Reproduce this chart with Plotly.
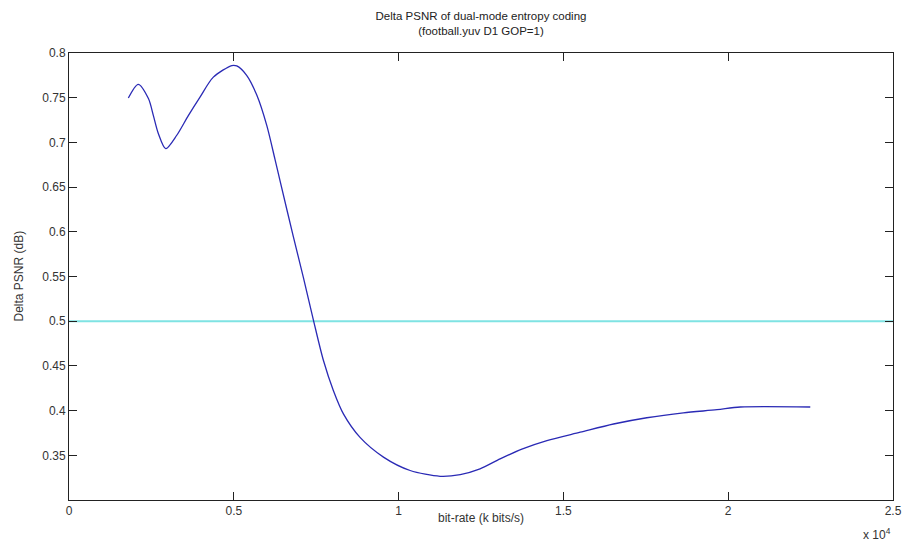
import plotly.graph_objects as go

# Data (bit-rate in k bits/s, delta PSNR in dB)
bitrate = [1800, 2100, 2410, 2560, 2710, 2935, 3270, 3620, 3980, 4380, 4940, 5090,
           5390, 5700, 6000, 6250, 6400, 6810, 7110, 7430, 7720, 8020, 8330, 8830,
           9540, 10350, 11260, 11870, 12470, 13080, 13740, 14500, 15510, 16520,
           17530, 18640, 19660, 20370, 22490]
delta_psnr = [0.7496, 0.765, 0.749, 0.730, 0.710, 0.693, 0.708, 0.730, 0.751, 0.773,
              0.786, 0.7855, 0.775, 0.7527, 0.719, 0.681, 0.6575, 0.594, 0.549, 0.499,
              0.456, 0.4225, 0.396, 0.370, 0.348, 0.333, 0.3265, 0.3284, 0.3348, 0.346,
              0.357, 0.3665, 0.3758, 0.385, 0.392, 0.3975, 0.401, 0.404, 0.404]
ref_x = [0, 25000]
ref_y = [0.5, 0.5]

x_tickvals = [0, 5000, 10000, 15000, 20000, 25000]
x_ticktext = ["0", "0.5", "1", "1.5", "2", "2.5"]
y_tickvals = [0.35, 0.4, 0.45, 0.5, 0.55, 0.6, 0.65, 0.7, 0.75, 0.8]
y_ticktext = ["0.35", "0.4", "0.45", "0.5", "0.55", "0.6", "0.65", "0.7", "0.75", "0.8"]

FONT = "Liberation Sans, Arial, sans-serif"

fig = go.Figure()
fig.add_trace(go.Scatter(x=ref_x, y=ref_y, mode="lines",
                         line=dict(color="#7fe3e3", width=2), showlegend=False))
fig.add_trace(go.Scatter(x=bitrate, y=delta_psnr, mode="lines",
                         line=dict(color="#2a2ab5", width=1.3, shape="spline", smoothing=0.8),
                         showlegend=False))

axis_common = dict(showline=True, linecolor="#222222", linewidth=1, mirror="allticks",
                   ticks="inside", ticklen=8, tickcolor="#222222", showgrid=False,
                   zeroline=False, automargin=False,
                   tickfont=dict(family=FONT, size=12, color="#333333"))

fig.update_layout(
    width=904, height=547,
    margin=dict(l=69, r=11, t=53, b=47),
    paper_bgcolor="white", plot_bgcolor="white",
    font=dict(family=FONT, size=12, color="#333333"),
    title=dict(text="Delta PSNR of dual-mode entropy coding<br>(football.yuv D1 GOP=1)",
               x=481 / 904, xanchor="center", y=1 - 20 / 547, yanchor="middle",
               font=dict(family=FONT, size=11.5, color="#222222")),
    xaxis=dict(range=[0, 25000], tickvals=x_tickvals, ticktext=x_ticktext, **axis_common),
    yaxis=dict(range=[0.3, 0.8], tickvals=y_tickvals, ticktext=y_ticktext, **axis_common),
    annotations=[
        dict(text="bit-rate (k bits/s)", xref="paper", yref="paper", x=0.5, y=-18 / 447,
             xanchor="center", yanchor="middle", showarrow=False,
             font=dict(family=FONT, size=12, color="#333333")),
        dict(text="Delta PSNR (dB)", xref="paper", yref="paper", x=-51 / 824, y=0.5,
             xanchor="center", yanchor="middle", textangle=-90, showarrow=False,
             font=dict(family=FONT, size=12, color="#333333")),
        dict(text="x 10<sup>4</sup>", xref="paper", yref="paper", x=1.0, y=-34 / 447,
             xanchor="right", yanchor="middle", showarrow=False,
             font=dict(family=FONT, size=12, color="#333333")),
    ],
)

fig.write_html(
    "out.html",
    config={"displayModeBar": False, "responsive": False},
    post_script=("document.documentElement.style.margin='0';"
                 "document.documentElement.style.overflow='hidden';"
                 "document.body.style.margin='0';"
                 "document.body.style.overflow='hidden';"),
)
